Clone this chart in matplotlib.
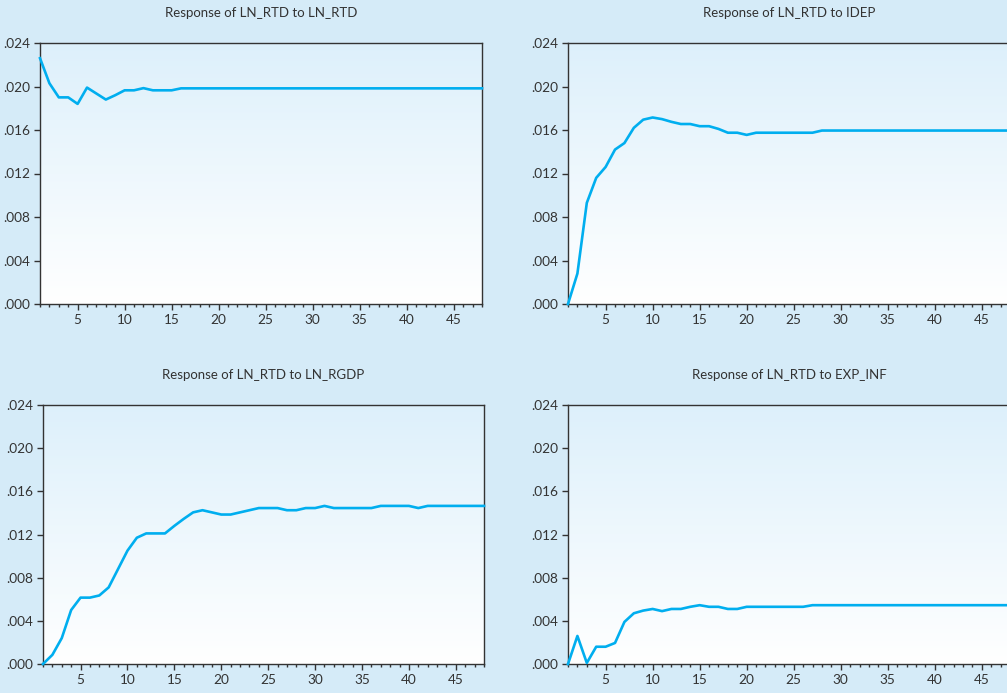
import numpy as np
import matplotlib
matplotlib.use("Agg")
import matplotlib.pyplot as plt
from matplotlib.ticker import MultipleLocator, FuncFormatter
from matplotlib.colors import LinearSegmentedColormap

plt.rcParams['font.family'] = ['Lato', 'DejaVu Sans']

periods = np.arange(1, 49)

titles = ["Response of LN_RTD to LN_RTD", "Response of LN_RTD to IDEP",
          "Response of LN_RTD to LN_RGDP", "Response of LN_RTD to EXP_INF"]

# responses (x 0.001), periods 1..48
resp_rtd = [22.6, 20.3, 19.0, 19.0, 18.4, 19.9, 19.35, 18.8, 19.2, 19.65,
            19.65, 19.85, 19.65, 19.65, 19.65, 19.83] + [19.83] * 32
resp_idep = [0.0, 2.8, 9.3, 11.6, 12.6, 14.2, 14.8, 16.2, 16.95, 17.15,
             17.0, 16.75, 16.55, 16.55, 16.35, 16.35, 16.1, 15.75, 15.75, 15.55,
             15.75, 15.75, 15.75, 15.75, 15.75, 15.75, 15.75] + [15.95] * 21
resp_rgdp = [0.0, 0.85, 2.4, 5.0, 6.15, 6.15, 6.35, 7.1, 8.8, 10.5,
             11.7, 12.1, 12.1, 12.1, 12.8, 13.45, 14.05, 14.25, 14.05, 13.85,
             13.85, 14.05, 14.25, 14.45, 14.45, 14.45, 14.25, 14.25, 14.45, 14.45,
             14.65, 14.45, 14.45, 14.45, 14.45, 14.45, 14.65, 14.65, 14.65, 14.65,
             14.45, 14.65, 14.65, 14.65, 14.65, 14.65, 14.65, 14.65]
resp_inf = [0.0, 2.6, 0.1, 1.6, 1.6, 1.95, 3.9, 4.7, 4.95, 5.1,
            4.9, 5.1, 5.1, 5.3, 5.45, 5.3, 5.3, 5.1, 5.1, 5.3,
            5.3, 5.3, 5.3, 5.3, 5.3, 5.3] + [5.45] * 22
responses = [resp_rtd, resp_idep, resp_rgdp, resp_inf]

W, H = 1007, 693
fig = plt.figure(figsize=(W / 100, H / 100), dpi=100)
fig.patch.set_facecolor('#d5ebf8')

# axes boxes in pixels: left, top, right, bottom
boxes = [(40, 43, 482, 304), (568, 43, 1010, 304),
         (43, 405, 484, 664), (568, 405, 1010, 664)]

grad = LinearSegmentedColormap.from_list('bg', ['#ffffff', '#ddf0fb'])
txt = '#333333'

for box, title, vals in zip(boxes, titles, responses):
    l, t, r, b = box
    ax = fig.add_axes([l / W, 1 - b / H, (r - l) / W, (b - t) / H])
    ax.set_facecolor('none')
    ax.imshow(np.linspace(0, 1, 256).reshape(-1, 1), cmap=grad, origin='lower',
              extent=[0, 1, 0, 1], transform=ax.transAxes, aspect='auto', zorder=0)
    ax.plot(periods, np.array(vals) / 1000, color='#00aeef', lw=1.9,
            solid_joinstyle='round', zorder=3, clip_on=False)
    ax.set_xlim(1, 48)
    ax.set_ylim(0, 0.024)
    ax.xaxis.set_major_locator(MultipleLocator(5))
    ax.xaxis.set_minor_locator(MultipleLocator(1))
    ax.yaxis.set_major_locator(MultipleLocator(0.004))
    ax.yaxis.set_major_formatter(FuncFormatter(lambda v, p: f"{v:.3f}".lstrip('0')))
    ax.tick_params(which='major', direction='out', length=4, width=1,
                   color='#333333', labelsize=9.8, labelcolor=txt, pad=3)
    ax.tick_params(which='minor', direction='out', length=2.5, width=1, color='#333333')
    ax.tick_params(axis='y', which='minor', length=0)
    for s in ax.spines.values():
        s.set_color('#333333')
        s.set_linewidth(1)
    ax.set_title(title, fontsize=9.5, color=txt, pad=19)

fig.savefig('out.png', dpi=100, facecolor=fig.get_facecolor())
